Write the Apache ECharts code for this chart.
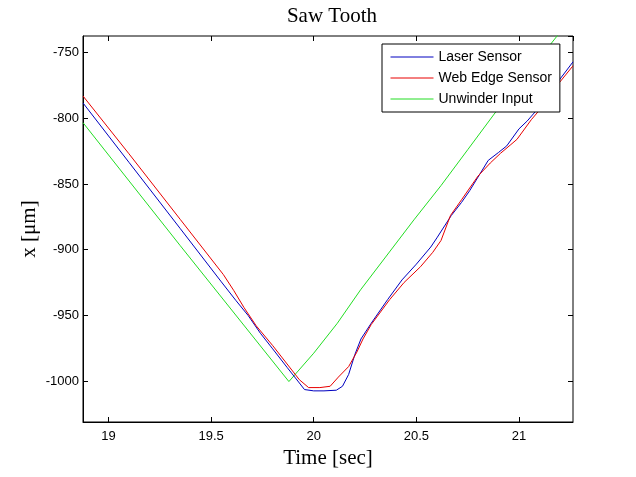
<!DOCTYPE html>
<html>
<head>
<meta charset="utf-8">
<script src="https://cdn.jsdelivr.net/npm/echarts@6/dist/echarts.min.js"></script>
<style>html,body{margin:0;padding:0;background:#fff}#c{width:636px;height:477px}</style>
</head>
<body>
<div id="c"></div>
<script>
// ---- data ----
var laserT = [18.876, 19.10, 19.35, 19.55, 19.62, 19.68, 19.74, 19.80, 19.87, 19.93, 19.955, 20.00, 20.05, 20.11, 20.14, 20.17, 20.20, 20.23, 20.28, 20.36, 20.43, 20.50, 20.57, 20.60, 20.67, 20.72, 20.76, 20.85, 20.90, 20.94, 21.00, 21.04, 21.09, 21.15, 21.20, 21.263];
var laserX = [-788.3, -833.5, -884, -924.5, -938.5, -950, -963.6, -975.5, -989.6, -1001.5, -1006.5, -1007.5, -1007.5, -1007, -1004, -995, -980, -968, -956, -938, -923, -911, -898, -891, -874, -864, -855, -832, -826, -821, -808, -802, -793, -782, -770, -757];

var webT = [18.876, 19.10, 19.35, 19.56, 19.61, 19.66, 19.72, 19.80, 19.87, 19.93, 19.975, 20.03, 20.08, 20.12, 20.17, 20.21, 20.24, 20.28, 20.37, 20.44, 20.52, 20.58, 20.62, 20.666, 20.72, 20.80, 20.86, 20.91, 20.96, 20.99, 21.06, 21.12, 21.18, 21.263];
var webX = [-783, -827, -877, -919, -931, -944, -958, -973, -987, -999, -1005, -1005, -1004, -997, -989, -978, -968, -957, -938, -925, -913, -902, -893, -874, -862, -844, -834, -826.6, -820, -816, -801, -790, -776, -760];

var unwT = [18.876, 19.35, 19.879, 20.00, 20.115, 20.228, 20.35, 20.488, 20.62, 20.75, 20.894, 21.05, 21.22];
var unwX = [-803.3, -897, -1000.4, -978.8, -956, -930.6, -905.6, -877.3, -851.2, -823.9, -793.6, -764, -730.5];

var seriesNames = ['Laser Sensor', 'Web Edge Sensor', 'Unwinder Input'];
var seriesColors = ['#0000c0', '#e80000', '#22dd22'];
var titleText = 'Saw Tooth';
var xName = 'Time [sec]';
var yName = 'x [\u03bcm]';
// ---------------------------------------

function pairs(t, v) { return t.map(function (x, i) { return [x, v[i]]; }); }

var xMin = 18.876, xMax = 21.263, yMin = -1031.2, yMax = -737.3;
var tickFont = { fontFamily: 'Liberation Sans, Arial', fontSize: 13, color: '#000' };
function plain(v) { return String(Math.round(v * 1000) / 1000); }

var chart = echarts.init(document.getElementById('c'), null, { renderer: 'canvas' });
chart.setOption({
  animation: false,
  backgroundColor: '#fff',
  title: {
    text: titleText, left: 327, top: 1, textAlign: 'center',
    textStyle: { fontFamily: 'Liberation Serif, Times New Roman', fontSize: 21, fontWeight: 'normal', color: '#000' }
  },
  grid: { left: 83, right: 63, top: 36, bottom: 55, show: true, borderColor: '#000', borderWidth: 1, backgroundColor: '#fff' },
  legend: {
    orient: 'vertical', left: 382, top: 44,
    padding: [6, 8, 6, 8], itemGap: 7, itemWidth: 43, itemHeight: 14,
    backgroundColor: '#fff', borderColor: '#000', borderWidth: 1, borderRadius: 0,
    itemStyle: { opacity: 0 },
    lineStyle: { width: 1 },
    textStyle: { fontFamily: 'Liberation Sans, Arial', fontSize: 14, color: '#000' },
    data: seriesNames
  },
  xAxis: [{
    type: 'value', min: xMin, max: xMax, position: 'bottom',
    name: xName, nameLocation: 'middle', nameGap: 26,
    nameTextStyle: { fontFamily: 'Liberation Serif, Times New Roman', fontSize: 21, color: '#000' },
    axisLine: { show: true, lineStyle: { color: '#000', width: 1 } },
    axisTick: { show: true, inside: true, length: 5, lineStyle: { color: '#000' } },
    axisLabel: Object.assign({ margin: 8, showMinLabel: false, showMaxLabel: false, formatter: plain }, tickFont),
    splitLine: { show: false }
  }, {
    type: 'value', min: xMin, max: xMax, position: 'top',
    axisLine: { show: false },
    axisTick: { show: true, inside: true, length: 5, lineStyle: { color: '#000' } },
    axisLabel: { show: false }, splitLine: { show: false }
  }],
  yAxis: [{
    type: 'value', min: yMin, max: yMax, position: 'left',
    name: yName, nameLocation: 'middle', nameGap: 43, nameRotate: 90, nameMoveOverlap: false,
    nameTextStyle: { fontFamily: 'Liberation Serif, Times New Roman', fontSize: 21, color: '#000' },
    axisLine: { show: true, lineStyle: { color: '#000', width: 1 } },
    axisTick: { show: true, inside: true, length: 5, lineStyle: { color: '#000' } },
    axisLabel: Object.assign({ margin: 4, showMinLabel: false, showMaxLabel: false, formatter: plain }, tickFont),
    splitLine: { show: false }
  }, {
    type: 'value', min: yMin, max: yMax, position: 'right',
    axisLine: { show: false },
    axisTick: { show: true, inside: true, length: 5, lineStyle: { color: '#000' } },
    axisLabel: { show: false }, splitLine: { show: false }
  }],
  series: [
    { name: seriesNames[0], type: 'line', data: pairs(laserT, laserX), symbol: 'none', clip: true,
      lineStyle: { color: seriesColors[0], width: 1 }, itemStyle: { color: seriesColors[0] } },
    { name: seriesNames[1], type: 'line', data: pairs(webT, webX), symbol: 'none', clip: true,
      lineStyle: { color: seriesColors[1], width: 1 }, itemStyle: { color: seriesColors[1] } },
    { name: seriesNames[2], type: 'line', data: pairs(unwT, unwX), symbol: 'none', clip: true, z: 1,
      lineStyle: { color: seriesColors[2], width: 1 }, itemStyle: { color: seriesColors[2] } }
  ]
});
</script>
</body>
</html>
